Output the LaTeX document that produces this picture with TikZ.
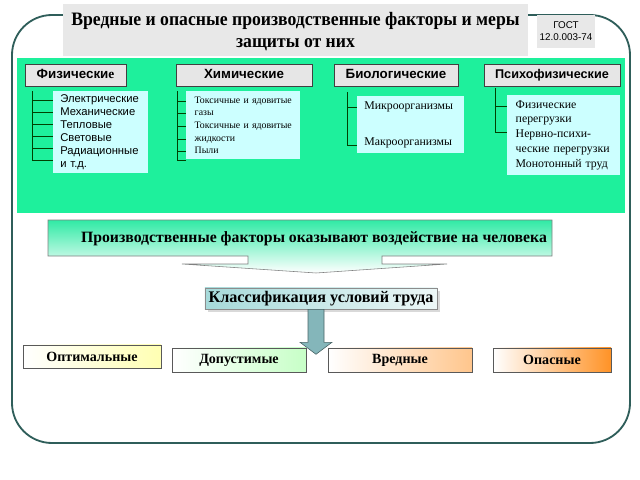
\documentclass[tikz,border=0pt]{standalone}
\usepackage{fontspec}
\setmainfont{Liberation Serif}
\setsansfont{Liberation Sans}
\newfontfamily\headrm[FakeStretch=0.93]{Liberation Serif}
\usetikzlibrary{positioning,shadows}
\definecolor{framec}{HTML}{2F5E5A}
\definecolor{areac}{HTML}{1EF09C}
\definecolor{hdrc}{HTML}{E6E6E6}
\definecolor{lstc}{HTML}{CCFFFF}
\definecolor{titlec}{HTML}{E8E8E8}
\definecolor{arrowc}{HTML}{84B6BA}
\definecolor{clsc}{HTML}{A6DADA}
\definecolor{prodc}{HTML}{30EAA5}

\begin{document}
\begin{tikzpicture}[x=0.025cm,y=-0.025cm,
    hdr/.style={draw=black!75,fill=hdrc,inner sep=0pt,minimum height=0.55cm,text height=7pt,text depth=1.5pt,
        font=\sffamily\bfseries\fontsize{9.5}{11}\selectfont},
    lst/.style={fill=lstc,inner xsep=3pt,inner ysep=0pt,anchor=north west,align=left},
    brk/.style={draw=black!75!green,line width=0.6pt},
    kind/.style={draw=black!65,inner sep=0pt,left color=white,minimum height=0.6cm,font=\bfseries\fontsize{10}{12}\selectfont}]
    \useasboundingbox (0,0) rectangle (640,480);
    % frame and green area
    \draw[framec,line width=1.3pt,rounded corners=1cm] (12,15) rectangle (630,443);
    \fill[areac] (17,58) rectangle (625,213);
    \node[fill=titlec,minimum width=11.625cm,minimum height=1.3cm,inner sep=0pt,align=center,
          font=\headrm\bfseries\fontsize{13.5}{15.6}\selectfont] (title) at (295.5,30)
          {\rule{0pt}{12pt}Вредные и опасные производственные факторы и меры\\защиты от них};
    \node[fill=titlec,minimum width=1.45cm,minimum height=0.825cm,inner sep=0pt,align=center,
          font=\sffamily\fontsize{7}{8.5}\selectfont] (gost) at (566,31.5) {ГОСТ\\12.0.003-74};
    % groups of factors
    \node[hdr,minimum width=2.525cm] (phys) at (75.5,75) {Физически{\rmfamily е}};
    \node[hdr,minimum width=3.4cm] (chem) at (244,75) {Химические};
    \node[hdr,minimum width=3.1cm] (bio) at (396,75) {Биологические};
    \node[hdr,minimum width=3.4cm,font=\sffamily\bfseries\fontsize{9}{10}\selectfont] (psy) at (552,75) {Психофизические};
    \node[lst,inner xsep=5pt,text width=2.02cm,minimum height=2.05cm,font=\sffamily\fontsize{8}{9.2}\selectfont] (physL) at (53,91)
        {Электрические\\Механические\\Тепловые\\Световые\\Радиационные\\и т.д.};
    \node[lst,text width=2.62cm,minimum height=1.7cm,font=\fontsize{7}{9}\selectfont] (chemL) at (186,91)
        {\hspace*{3pt}Токсичные и ядовитые\\\hspace*{3pt}газы\\\hspace*{3pt}Токсичные и ядовитые\\\hspace*{3pt}жидкости\\\hspace*{3pt}Пыли};
    \node[lst,inner xsep=5pt,text width=2.32cm,minimum height=1.425cm,font=\fontsize{8.4}{25.6}\selectfont] (bioL) at (357,96)
        {Микроорганизмы\\Макроорганизмы};
    \node[lst,text width=2.6cm,minimum height=2cm,font=\fontsize{8.4}{10.6}\selectfont] (psyL) at (507,95)
        {\hspace*{3pt}Физические\\\hspace*{3pt}перегрузки\\\hspace*{3pt}Нервно-психи-\\\hspace*{3pt}ческие перегрузки\\\hspace*{3pt}Монотонный труд};
    \draw[brk] (32,91) -- (32,160) \foreach \y in {100,112,124,136,148,160} {(32,\y) -- (physL.west |- 32,\y)};
    \draw[brk] (177,91) -- (177,160) \foreach \y in {101,113,126,139,151,160} {(177,\y) -- (chemL.west |- 177,\y)};
    \draw[brk] (347,92) -- (347,145) \foreach \y in {107,145} {(347,\y) -- (bioL.west |- 347,\y)};
    \draw[brk] (495,88) -- (495,132) \foreach \y in {106,132} {(495,\y) -- (psyL.west |- 495,\y)};
    % influence and classification
    \shadedraw[draw=black!50,top color=prodc,middle color=prodc!45,bottom color=white]
        (48,220) -- (552,220) -- (552,256) -- (382,256) -- (382,264) -- (447,264) -- (316,273)
        -- (182,264) -- (248,264) -- (248,256) -- (48,256) -- cycle;
    \node[font=\bfseries\fontsize{11.2}{13}\selectfont] (prod) at (314,239)
        {Производственные факторы оказывают воздействие на человека};
    \node[draw=black!45,left color=clsc,right color=clsc!20,drop shadow={opacity=0.3},
          minimum width=5.8cm,minimum height=0.525cm,inner sep=0pt,
          font=\bfseries\fontsize{11.5}{13}\selectfont] (cls) at (321,298.5) {Классификация условий труда};
    \filldraw[fill=arrowc,draw=black!45!arrowc] (cls.south) ++(-13,0) -- ++(0,33) -- ++(-8,0) -- ++(16,12)
        -- ++(16,-12) -- ++(-8,0) -- ++(0,-33) -- cycle;
    \node[kind,right color=yellow!30,minimum width=3.45cm,minimum height=0.575cm] (opt) at (92,356.5) {Оптимальные};
    \node[kind,right color=green!22,minimum width=3.35cm] (dop) at (239,360) {Допустимые};
    \node[kind,right color=orange!45,minimum width=3.6cm] (vred) at (400,360) {Вредные};
    \node[kind,right color=orange!85,minimum width=2.95cm] (opas) at (552,360) {Опасные};
\end{tikzpicture}
\end{document}
